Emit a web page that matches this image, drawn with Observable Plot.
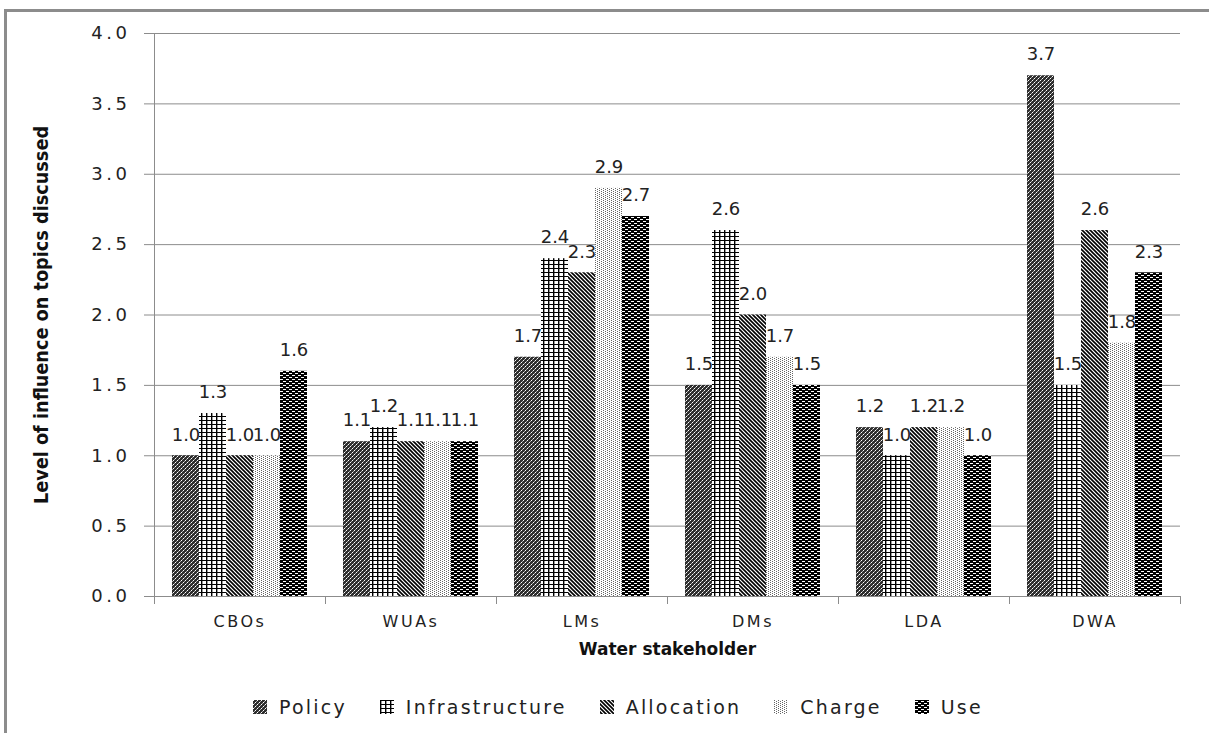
<!DOCTYPE html>
<html><head><meta charset="utf-8">
<script src="https://cdn.jsdelivr.net/npm/d3@7"></script>
<script src="https://cdn.jsdelivr.net/npm/@observablehq/plot@0.6"></script>
<style>
body{margin:0;background:#fff;font-family:"DejaVu Sans",sans-serif;}
#wrap{position:relative;width:1209px;height:733px;overflow:hidden;}
#frame{position:absolute;left:4px;top:9px;width:1300px;height:800px;border-left:3px solid #8c8c8c;border-top:3px solid #8c8c8c;}
#chart{position:absolute;left:0;top:0;}
#legend{position:absolute;left:253px;top:696px;display:flex;align-items:center;font-size:19px;letter-spacing:2.2px;color:#222;line-height:22px;}
.item{display:flex;align-items:center;margin-right:33px}
.item svg{margin-right:12px;display:block}
#chart g[aria-label="y-axis tick label"] text{letter-spacing:3.5px}
#chart g[aria-label="fx-axis tick label"] text{letter-spacing:2.5px}
#chart g[aria-label="value-labels"] text{letter-spacing:2.2px}
#chart g[aria-label="x-title"] text{letter-spacing:1.4px}
</style></head><body>
<div id="wrap"><div id="frame"></div><div id="chart"></div><div id="legend"></div></div>
<script>
const categories = ["CBOs","WUAs","LMs","DMs","LDA","DWA"];
const series = ["Policy","Infrastructure","Allocation","Charge","Use"];
const policy = [1.0,1.1,1.7,1.5,1.2,3.7];
const infrastructure = [1.3,1.2,2.4,2.6,1.0,1.5];
const allocation = [1.0,1.1,2.3,2.0,1.2,2.6];
const charge = [1.0,1.1,2.9,1.7,1.2,1.8];
const use = [1.6,1.1,2.7,1.5,1.0,2.3];
const yTicks = [0,0.5,1,1.5,2,2.5,3,3.5,4];
const xTitle = "Water stakeholder";
const yTitle = "Level of influence on topics discussed";

const seriesValues = [policy, infrastructure, allocation, charge, use];
const data = categories.flatMap((c,i)=> series.map((s,j)=>({category:c, series:s, value: seriesValues[j][i]})));
const patId = s => "pat-" + s;

const plot = Plot.plot({
  width:1209, height:676, marginLeft:153, marginRight:29, marginTop:33, marginBottom:80,
  style:{fontFamily:"DejaVu Sans", fontSize:"17px", color:"#222", background:"transparent"},
  fx:{domain:categories, padding:0, label:null},
  x:{domain:series, paddingInner:0, paddingOuter:0.66, axis:null},
  y:{domain:[0,4], label:null},
  color:{domain:series, range: series.map(s=>`url(#${patId(s)})`)},
  marks:[
    Plot.gridY(yTicks,{stroke:"#8c8c8c", strokeOpacity:1}),
    Plot.axisY(yTicks,{tickSize:10, tickPadding:14, tickFormat: d=>d.toFixed(1), stroke:"#8c8c8c", strokeOpacity:1, label:null, fontSize:18}),
    Plot.axisFx({anchor:"bottom", tickSize:0, tickPadding:19, label:null, fontSize:16}),
    Plot.barY(data,{fx:"category", x:"series", y:"value", fill:"series"}),
    Plot.ruleY([0],{stroke:"#8c8c8c"}),
    Plot.text(data,{fx:"category", x:"series", y:"value", text: d=>d.value.toFixed(1), dy:-21, fontSize:18, fill:"#222", ariaLabel:"value-labels"}),
    Plot.text([xTitle], {frameAnchor:"bottom", dy:58, facet:"super", fontWeight:"bold", fontSize:17, fill:"#111", ariaLabel:"x-title"}),
    Plot.text([yTitle], {frameAnchor:"left", textAnchor:"middle", dx:-113, rotate:-90, facet:"super", fontWeight:"bold", fontSize:20, fill:"#111", ariaLabel:"y-title"})
  ]
});

// patterns
const svg = d3.select(plot);
const defs = svg.insert("defs", ":first-child");
function pat(name, w, h, draw){
  const p = defs.append("pattern").attr("id", patId(name)).attr("patternUnits","userSpaceOnUse").attr("width",w).attr("height",h);
  draw(p);
}
pat("Policy", 4, 4, p=>{
  p.append("rect").attr("width",4).attr("height",4).attr("fill","#2e2e2e");
  p.append("rect").attr("x",0).attr("y",0).attr("width",1).attr("height",1).attr("fill","#fff");
  p.append("rect").attr("x",2).attr("y",2).attr("width",1).attr("height",1).attr("fill","#fff");
  p.append("rect").attr("x",1).attr("y",3).attr("width",1).attr("height",1).attr("fill","#aaa");
  p.append("rect").attr("x",3).attr("y",1).attr("width",1).attr("height",1).attr("fill","#aaa");
});
pat("Infrastructure", 5, 4, p=>{
  p.append("rect").attr("width",5).attr("height",4).attr("fill","#fff");
  p.append("rect").attr("x",0).attr("y",0).attr("width",1.4).attr("height",4).attr("fill","#000");
  p.append("rect").attr("x",0).attr("y",0).attr("width",5).attr("height",1).attr("fill","#000");
});
pat("Allocation", 4, 4, p=>{
  p.append("rect").attr("width",4).attr("height",4).attr("fill","#fff");
  p.append("path").attr("d","M0,0L4,4M-1,3L1,5M3,-1L5,1").attr("stroke","#000").attr("stroke-width",1.6);
});
pat("Charge", 4, 2, p=>{
  p.append("rect").attr("width",4).attr("height",2).attr("fill","#fff");
  p.append("rect").attr("x",0).attr("y",0).attr("width",1).attr("height",1).attr("fill","#666");
  p.append("rect").attr("x",2).attr("y",1).attr("width",1).attr("height",1).attr("fill","#666");
});
pat("Use", 6, 4, p=>{
  p.append("rect").attr("width",6).attr("height",4).attr("fill","#000");
  p.append("rect").attr("x",0).attr("y",1).attr("width",3).attr("height",1).attr("fill","#fff");
  p.append("rect").attr("x",3).attr("y",3).attr("width",3).attr("height",1).attr("fill","#fff");
});

// condense the rotated y title along its reading direction
svg.selectAll("text").filter(function(){ return this.textContent === yTitle; }).each(function(){
  const tr = this.getAttribute("transform");
  this.setAttribute("transform", (tr ? tr + " " : "") + "scale(0.885,1)");
});

// axis line and category boundary ticks, from Plot's scales
const fx = plot.scale("fx"), y = plot.scale("y");
const y0 = y.apply(0), y4 = y.apply(4);
const left = fx.apply(categories[0]);
const edges = categories.map(c=>fx.apply(c)).concat([fx.apply(categories[categories.length-1]) + fx.bandwidth]);
const g = svg.append("g").attr("stroke","#8c8c8c").attr("shape-rendering","crispEdges");
g.append("line").attr("x1",left).attr("x2",left).attr("y1",y4).attr("y2",y0);
edges.forEach(x=>g.append("line").attr("x1",x).attr("x2",x).attr("y1",y0).attr("y2",y0+8));

document.getElementById("chart").appendChild(plot);

// legend
const legend = d3.select("#legend");
series.forEach(s=>{
  const it = legend.append("div").attr("class","item");
  const sw = it.append("svg").attr("width",14).attr("height",14);
  sw.append("rect").attr("width",14).attr("height",14).attr("fill",`url(#${patId(s)})`);
  it.append("span").text(s);
});
</script>
</body></html>
